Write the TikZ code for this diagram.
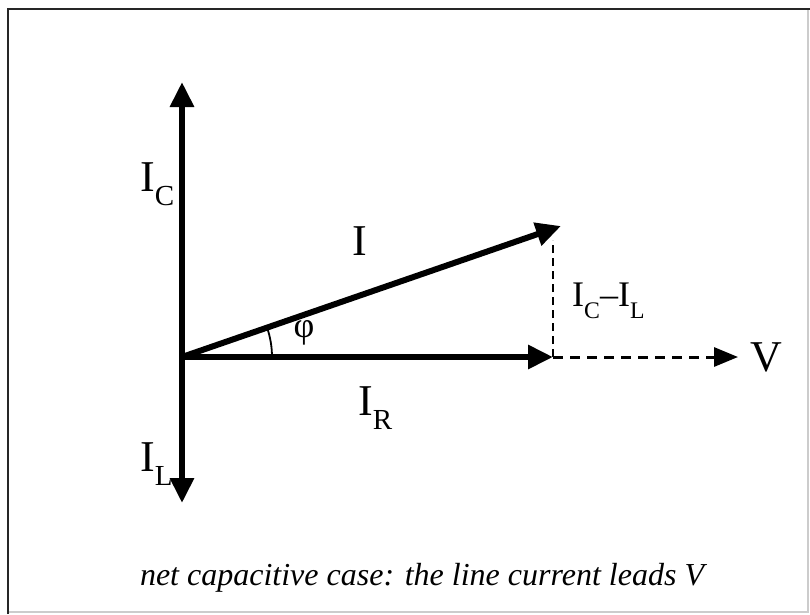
\documentclass[tikz,border=0pt]{standalone}
\usepackage{fontspec}
\setmainfont{Liberation Serif}
\usepackage{graphicx}
\usetikzlibrary{arrows.meta}
\newcommand\psub[1]{\raisebox{-0.32em}{\scalebox{0.66}{#1}}}
\tikzset{
  vec/.style={line width=6pt,-{Triangle[length=25pt,width=23pt]}},
  dvec/.style={line width=3pt,dash pattern=on 10pt off 7pt,-{Triangle[length=24pt,width=19pt]}},
  dline/.style={line width=2.8pt,dash pattern=on 8pt off 5pt},
  big/.style={font=\fontsize{44}{44}\selectfont,inner sep=0pt},
  mid/.style={font=\fontsize{36}{36}\selectfont,inner sep=0pt},
}
\begin{document}
\begin{tikzpicture}[x=1pt,y=-1pt]
\useasboundingbox (0,0) rectangle (810,614);
\fill[white] (0,0) rectangle (810,614);
\draw[gray!40,line width=1.5pt] (8,612) -- (808,612) -- (808,9);
\draw[black!85,line width=2.5pt] (8,614) -- (8,9) -- (810,9);
\coordinate (O) at (182,357);
\coordinate (Ctip) at (182,82);
\coordinate (Ltip) at (182,503);
\coordinate (R) at (553,357);
\coordinate (Itip) at (561,226);
\coordinate (Itop) at (553,240);
\coordinate (Vtip) at (738,357);
\draw[vec] (O) -- (Ctip);
\draw[vec] (O) -- (Ltip);
\draw[vec] (O) -- (R);
\draw[vec] (O) -- (Itip);
\draw[dline] (R) -- (Itop);
\draw[dvec] (R) -- (Vtip);
\draw[line width=1.8pt] (272,357) arc[start angle=0,end angle=-19.5,radius=90];
\node[big,anchor=north west] (lc) at (140,162) {I\psub{C}};
\node[big,anchor=north west] (ll) at (140,442) {I\psub{L}};
\node[big,anchor=north west] (lr) at (358,386) {I\psub{R}};
\node[big,anchor=north west] (li) at (352,226) {I};
\node[mid,anchor=center] (phi) at (304,333) {φ};
\node[mid,anchor=north west] (lcl) at (572,283) {I\psub{C}–I\psub{L}};
\node[big,anchor=west] (lv) at (750,357) {V};
\node[font=\fontsize{32}{32}\selectfont\itshape,inner sep=0pt] (cap) at (422,578) {net capacitive case: the line current leads V};
\end{tikzpicture}
\end{document}
